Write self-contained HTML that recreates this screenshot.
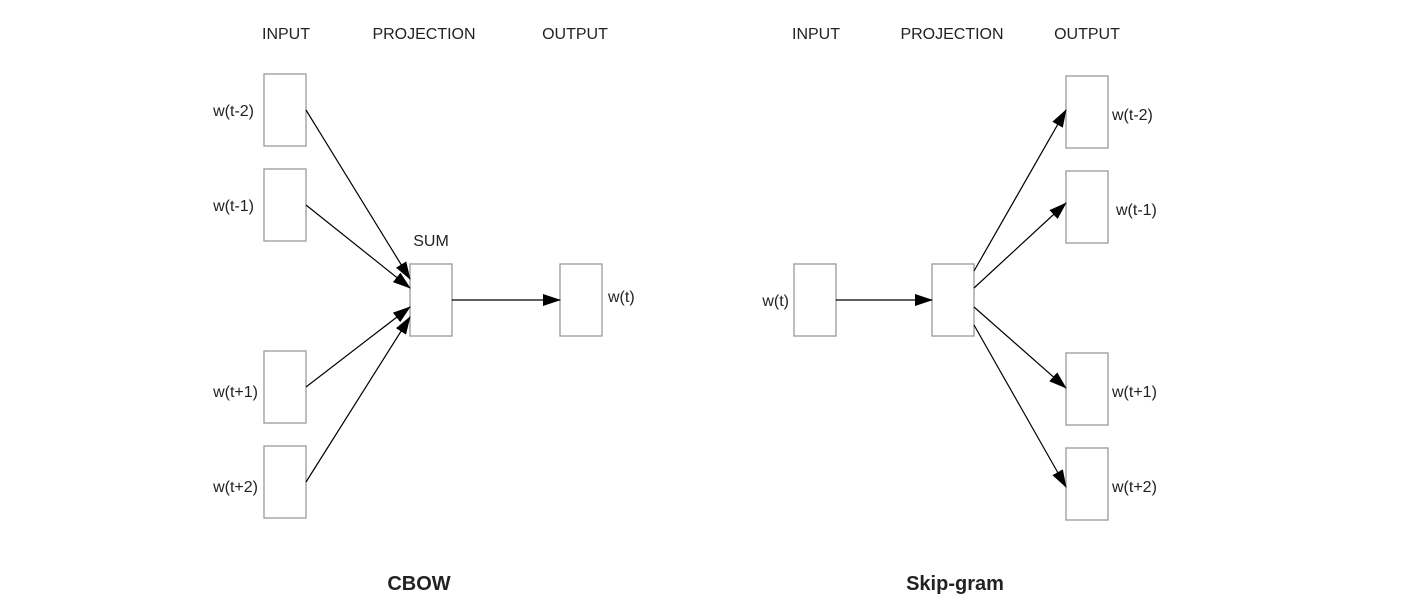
<!DOCTYPE html>
<html><head><style>
body{margin:0;background:#fff;}
svg text{font-family:"Liberation Sans",Arial,sans-serif;fill:#222;}
</style></head><body>
<svg width="1420" height="610" viewBox="0 0 1420 610" xmlns="http://www.w3.org/2000/svg">
<defs><marker id="a" markerWidth="18" markerHeight="12" refX="17" refY="6" orient="auto" markerUnits="userSpaceOnUse"><path d="M0,0 L18,6 L0,12 z" fill="#000"/></marker></defs>
<g font-size="16">
<text x="286" y="39" text-anchor="middle">INPUT</text>
<text x="424" y="39" text-anchor="middle">PROJECTION</text>
<text x="575" y="39" text-anchor="middle">OUTPUT</text>
<text x="816" y="39" text-anchor="middle">INPUT</text>
<text x="952" y="39" text-anchor="middle">PROJECTION</text>
<text x="1087" y="39" text-anchor="middle">OUTPUT</text>
<text x="431" y="246" text-anchor="middle">SUM</text>
<text x="254" y="116" text-anchor="end">w(t-2)</text>
<text x="254" y="211" text-anchor="end">w(t-1)</text>
<text x="258" y="397" text-anchor="end">w(t+1)</text>
<text x="258" y="492" text-anchor="end">w(t+2)</text>
<text x="608" y="302">w(t)</text>
<text x="789" y="306" text-anchor="end">w(t)</text>
<text x="1112" y="120">w(t-2)</text>
<text x="1116" y="215">w(t-1)</text>
<text x="1112" y="397">w(t+1)</text>
<text x="1112" y="492">w(t+2)</text>
</g>
<g font-size="20" font-weight="bold">
<text x="419" y="590" text-anchor="middle">CBOW</text>
<text x="955" y="590" text-anchor="middle">Skip-gram</text>
</g>
<g fill="#fff" stroke="#999" stroke-width="1.3">
<rect x="264" y="74" width="42" height="72"/>
<rect x="264" y="169" width="42" height="72"/>
<rect x="264" y="351" width="42" height="72"/>
<rect x="264" y="446" width="42" height="72"/>
<rect x="410" y="264" width="42" height="72"/>
<rect x="560" y="264" width="42" height="72"/>
<rect x="794" y="264" width="42" height="72"/>
<rect x="932" y="264" width="42" height="72"/>
<rect x="1066" y="76" width="42" height="72"/>
<rect x="1066" y="171" width="42" height="72"/>
<rect x="1066" y="353" width="42" height="72"/>
<rect x="1066" y="448" width="42" height="72"/>
</g>
<g stroke="#000" stroke-width="1.2" marker-end="url(#a)">
<line x1="306" y1="110" x2="410" y2="279"/>
<line x1="306" y1="205" x2="410" y2="288"/>
<line x1="306" y1="387" x2="410" y2="307"/>
<line x1="306" y1="482" x2="410" y2="317"/>
<line x1="452" y1="300" x2="560" y2="300"/>
<line x1="836" y1="300" x2="932" y2="300"/>
<line x1="974" y1="271" x2="1066" y2="110"/>
<line x1="974" y1="288" x2="1066" y2="203"/>
<line x1="974" y1="307" x2="1066" y2="388"/>
<line x1="974" y1="325" x2="1066" y2="487"/>
</g>
</svg>
</body></html>
